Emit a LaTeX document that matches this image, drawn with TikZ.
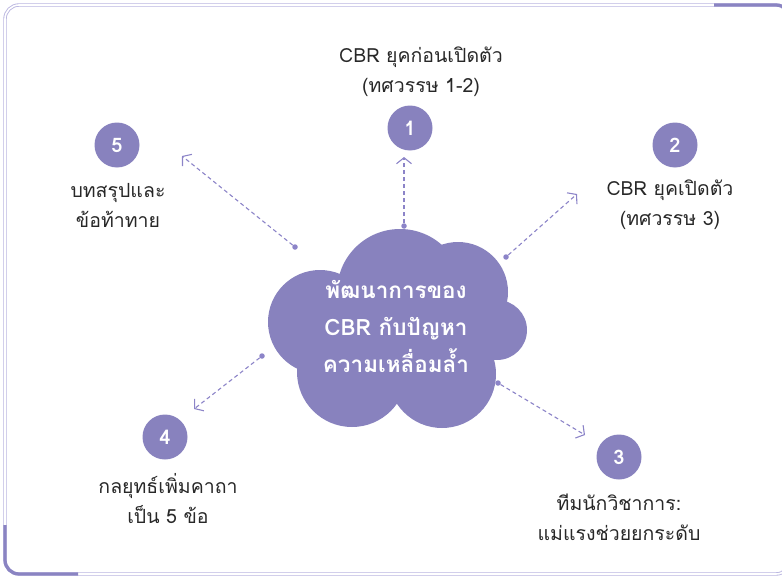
\documentclass[tikz,border=0pt]{standalone}
\usepackage{fontspec}
\setmainfont[Script=Thai]{Loma}
\usetikzlibrary{arrows.meta}
\definecolor{cloudc}{RGB}{136,130,190}
\definecolor{framel}{RGB}{186,182,224}
\definecolor{framed}{RGB}{138,132,194}
\definecolor{arrc}{RGB}{140,132,200}
\definecolor{txtc}{RGB}{40,40,40}
\begin{document}
\begin{tikzpicture}[x=1pt,y=-1pt,
  numc/.style={circle,fill=cloudc,minimum size=45pt,inner sep=0pt,text=white,font=\fontsize{20}{20}\selectfont\bfseries},
  lbl/.style={align=center,font=\fontsize{19.5}{30}\selectfont,text=txtc,inner sep=0pt},
  dotc/.style={circle,fill=arrc,inner sep=0pt,minimum size=5.5pt},
  link/.style={draw=arrc,line width=1.1pt,dash pattern=on 4pt off 3pt,-{Straight Barb[length=6pt,width=15pt,line width=1.1pt]}},
  cloudtxt/.style={align=center,text=white,font=\fontsize{22.5}{37}\selectfont\bfseries,inner sep=0pt}
]
\useasboundingbox (0,0) rectangle (782,578);
% frame
\draw[framel,line width=0.9pt,double=white,double distance=1.6pt,rounded corners=14pt] (5,5) rectangle (790,574);
\draw[framed,line width=3.2pt,rounded corners=14pt] (714,5) -- (790,5) -- (790,40);
\draw[framed,line width=3.2pt,rounded corners=14pt] (5,525) -- (5,574) -- (78,574);
% cloud
\fill[cloudc] (400,292) circle (63);
\fill[cloudc] (320,322) circle (52);
\fill[cloudc] (458,292) circle (50);
\fill[cloudc] (497,330) circle (30);
\fill[cloudc] (352,372) circle (55);
\fill[cloudc] (442,374) circle (54);
\fill[cloudc] (400,340) ellipse (90 and 60);
\node[cloudtxt] (core) at (396,326) {พัฒนาการของ\\CBR กับปัญหา\\ความเหลื่อมล้ำ};
% numbered circles
\node[numc] (n1) at (410,128) {1};
\node[numc] (n2) at (675,145) {2};
\node[numc] (n3) at (619,457) {3};
\node[numc] (n4) at (165,437) {4};
\node[numc] (n5) at (117,145) {5};
% labels
\node[lbl] (l1) at (421,72) {CBR ยุคก่อนเปิดตัว\\(ทศวรรษ 1-2)};
\node[lbl] (l2) at (670,205) {CBR ยุคเปิดตัว\\(ทศวรรษ 3)};
\node[lbl] (l3) at (619,517) {ทีมนักวิชาการ:\\แม่แรงช่วยยกระดับ};
\node[lbl] (l4) at (168,499) {กลยุทธ์เพิ่มคาถา\\เป็น 5 ข้อ};
\node[lbl] (l5) at (118,205) {บทสรุปและ\\ข้อท้าทาย};
% connectors
\node[dotc] (d1) at (404,226) {};
\node[dotc] (d2) at (506,257) {};
\node[dotc] (d3) at (498,383) {};
\node[dotc] (d4) at (262,356) {};
\node[dotc] (d5) at (295,247) {};
\coordinate (t1) at (404,157);
\coordinate (t2) at (577,194);
\coordinate (t3) at (585,435);
\coordinate (t4) at (194,409);
\coordinate (t5) at (182,156);
\draw[link] (d1) -- (t1);
\draw[link] (d2) -- (t2);
\draw[link] (d3) -- (t3);
\draw[link] (d4) -- (t4);
\draw[link] (d5) -- (t5);
\end{tikzpicture}
\end{document}
